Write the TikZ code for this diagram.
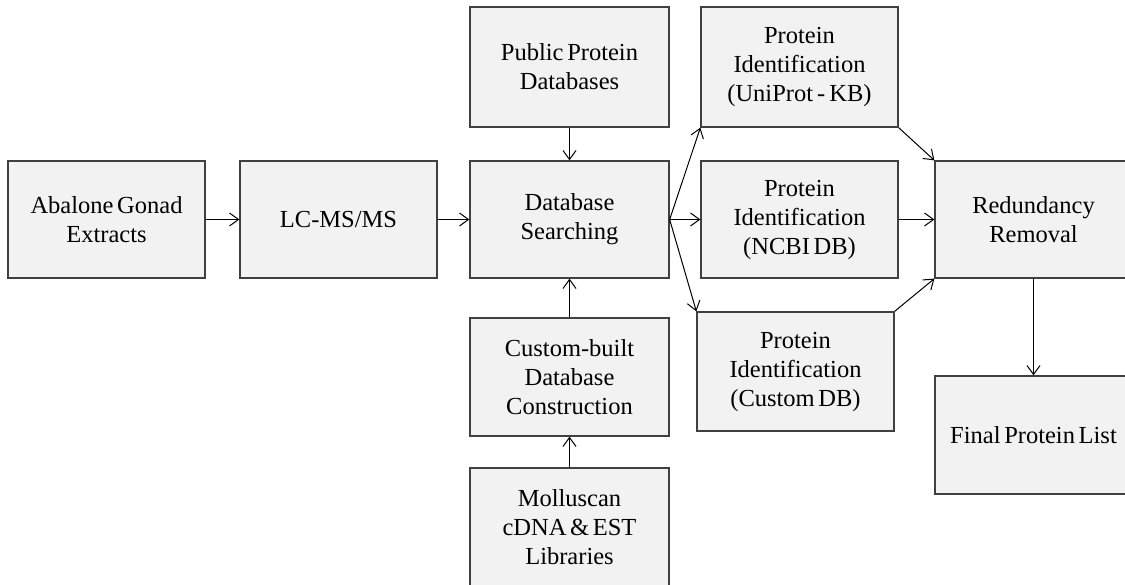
\documentclass[tikz,border=0pt]{standalone}
\usepackage{fontspec}
\setmainfont{Liberation Serif}[WordSpace={0.6}]
\usepackage{tikz}
\usetikzlibrary{arrows.meta}

\begin{document}
\begin{tikzpicture}[x=1pt, y=-1pt,
    stage/.style={draw=black!75, line width=1.3pt, fill=black!5, align=center,
      minimum width=197pt, minimum height=117pt, inner sep=2pt,
      font=\fontsize{24.5}{29}\selectfont},
    arr/.style={-{Straight Barb[length=9pt, width=13pt, line width=1pt]}, line width=1pt}]
  \useasboundingbox (0,0) rectangle (1125,584);
  % left column and the search step
  \node[stage] (abalone) at (106.5,219.5) {Abalone Gonad\\Extracts};
  \node[stage] (lcms) at (338.5,219.5) {LC-MS/MS};
  \node[stage, minimum width=199pt] (search) at (569.5,219.5) {Database\\Searching};
  \node[stage, minimum width=199pt, minimum height=120pt] (public) at (569.5,67) {Public Protein\\Databases};
  \node[stage, minimum width=199pt, minimum height=118pt] (custom) at (569.5,377) {Custom-built\\Database\\Construction};
  \node[stage, minimum width=199pt, minimum height=118pt] (mollusc) at (569.5,527) {Molluscan\\cDNA \& EST\\Libraries};
  % identification results
  \node[stage, minimum height=120pt] (uniprot) at (799.5,67) {Protein\\Identification\\(UniProt\,-\,KB)};
  \node[stage] (ncbi) at (799.5,219.5) {Protein\\Identification\\(NCBI DB)};
  \node[stage, minimum height=119pt] (customdb) at (795.5,371.5) {Protein\\Identification\\(Custom DB)};
  \node[stage] (redund) at (1033.5,219.5) {Redundancy\\Removal};
  \node[stage, minimum height=118pt] (final) at (1033.5,435) {Final Protein List};

  \draw[arr] (abalone) -- (lcms);
  \draw[arr] (lcms) -- (search);
  \draw[arr] (public) -- (search);
  \draw[arr] (custom) -- (search);
  \draw[arr] (mollusc) -- (custom);
  \foreach \t/\a in {uniprot/south west, ncbi/west, customdb/north west}
    \draw[arr] (search.east) -- (\t.\a);
  \draw[arr] (uniprot.south east) -- (redund.north west);
  \draw[arr] (ncbi) -- (redund);
  \draw[arr] (customdb.north east) -- (redund.south west);
  \draw[arr] (redund) -- (final);
\end{tikzpicture}
\end{document}
